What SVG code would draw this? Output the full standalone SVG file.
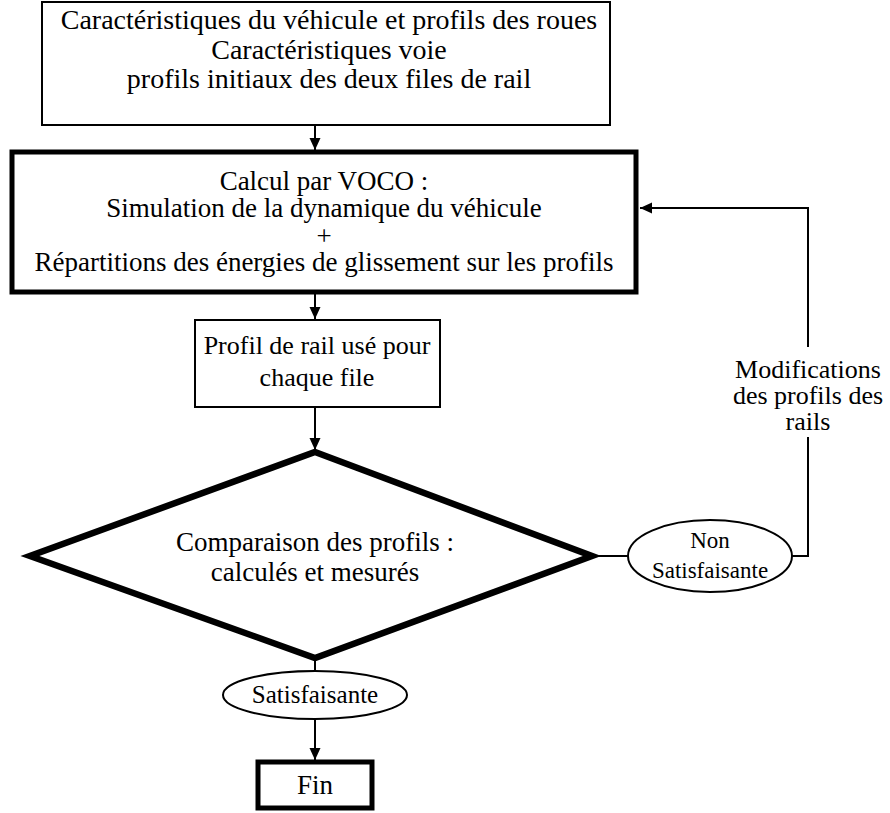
<svg xmlns="http://www.w3.org/2000/svg" width="890" height="813" viewBox="0 0 890 813" font-family="'Liberation Serif', 'DejaVu Serif', 'Times New Roman', serif">
<style>
  text { font-family: "Liberation Serif", "DejaVu Serif", "Times New Roman", serif; fill: #000; text-anchor: middle; }
  .h { font-size: 28px; }
  .t { font-size: 27px; }
  .m { font-size: 26px; }
  .s { font-size: 23px; }
  .b { font-size: 25px; }
  .thin { fill: #fff; stroke: #000; stroke-width: 2; }
  .thick { fill: #fff; stroke: #000; stroke-width: 5; }
  .dia { fill: #fff; stroke: #000; stroke-width: 6.5; stroke-linejoin: miter; }
  .con { fill: none; stroke: #000; stroke-width: 2; }
</style>
<defs>
  <marker id="ah" markerWidth="12" markerHeight="12" refX="12" refY="6" orient="auto" markerUnits="userSpaceOnUse">
    <path d="M0,0.5 L12,6 L0,11.5 Z" fill="#000"/>
  </marker>
</defs>
<rect width="890" height="813" fill="#fff"/>

<g id="connectors">
  <line class="con" x1="315" y1="125" x2="315" y2="150" marker-end="url(#ah)"/>
  <line class="con" x1="315" y1="294" x2="315" y2="319" marker-end="url(#ah)"/>
  <line class="con" x1="315" y1="407" x2="315" y2="450" marker-end="url(#ah)"/>
  <line class="con" x1="595" y1="556" x2="628" y2="556"/>
  <polyline class="con" points="792,556 808,556 808,437"/>
  <polyline class="con" points="808,347 808,208 640,208" marker-end="url(#ah)"/>
  <line class="con" x1="315" y1="661" x2="315" y2="671"/>
  <line class="con" x1="315" y1="719" x2="315" y2="760" marker-end="url(#ah)"/>
</g>

<g id="input">
  <rect class="thin" x="42" y="2" width="568" height="123"/>
  <text class="h" x="329" y="29">Caractéristiques du véhicule et profils des roues</text>
  <text class="h" x="329" y="59">Caractéristiques voie</text>
  <text class="h" x="329" y="88">profils initiaux des deux files de rail</text>
</g>

<g id="calcul">
  <rect class="thick" x="12" y="152" width="624" height="140"/>
  <text class="t" x="324" y="190">Calcul par VOCO :</text>
  <text class="t" x="324" y="217">Simulation de la dynamique du véhicule</text>
  <text class="t" x="324" y="245">+</text>
  <text class="t" x="324" y="271">Répartitions des énergies de glissement sur les profils</text>
</g>

<g id="profil">
  <rect class="thin" x="195" y="320" width="245" height="87"/>
  <text class="m" x="317" y="354">Profil de rail usé pour</text>
  <text class="m" x="317" y="386">chaque file</text>
</g>

<g id="comparaison">
  <polygon class="dia" points="315,452 592,556 315,658 30,556"/>
  <text class="t" x="315" y="551">Comparaison des profils :</text>
  <text class="t" x="315" y="581">calculés et mesurés</text>
</g>

<g id="non-satisfaisante">
  <ellipse class="thin" cx="710" cy="556" rx="82" ry="36"/>
  <text class="s" x="710" y="548">Non</text>
  <text class="s" x="710" y="578">Satisfaisante</text>
</g>

<g id="modifications">
  <text class="m" x="808" y="378">Modifications</text>
  <text class="m" x="808" y="404">des profils des</text>
  <text class="m" x="808" y="430">rails</text>
</g>

<g id="satisfaisante">
  <ellipse class="thin" cx="315" cy="695" rx="92" ry="24"/>
  <text class="b" x="315" y="703">Satisfaisante</text>
</g>

<g id="fin">
  <rect class="thick" x="258" y="762" width="114" height="46"/>
  <text class="t" x="315" y="794">Fin</text>
</g>
</svg>
